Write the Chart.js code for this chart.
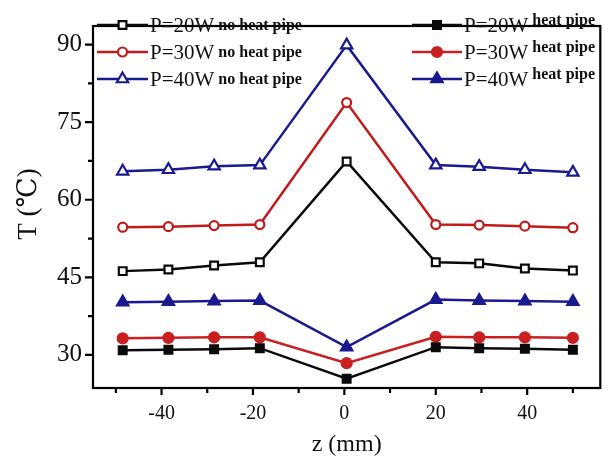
<!DOCTYPE html>
<html>
<head>
<meta charset="utf-8">
<script src="https://cdn.jsdelivr.net/npm/chart.js@4.4.0/dist/chart.umd.min.js"></script>
<style>
    html, body { margin: 0; padding: 0; background: #fff; }
    #wrap { width: 609px; height: 460px; }
</style>
</head>
<body>
<div id="wrap"><canvas id="chart" width="609" height="460"></canvas></div>
<script>
// values
var zPos = [-48.5, -38.5, -28.5, -18.5, 0.5, 20, 29.5, 39.5, 50];
var noHp20 = [46.2, 46.5, 47.3, 47.9, 67.4, 47.9, 47.7, 46.7, 46.3];
var noHp30 = [54.7, 54.8, 55.0, 55.2, 78.8, 55.2, 55.1, 54.9, 54.6];
var noHp40 = [65.5, 65.8, 66.5, 66.7, 89.9, 66.7, 66.4, 65.8, 65.3];
var hp20 = [30.9, 31.0, 31.1, 31.3, 25.4, 31.5, 31.3, 31.2, 31.0];
var hp30 = [33.2, 33.3, 33.4, 33.4, 28.4, 33.5, 33.4, 33.4, 33.3];
var hp40 = [40.2, 40.3, 40.4, 40.5, 31.5, 40.7, 40.5, 40.4, 40.3];

var xTicks = [-50, -40, -30, -20, -10, 0, 10, 20, 30, 40, 50];
var yTicks = [30, 37.5, 45, 52.5, 60, 67.5, 75, 82.5, 90];

var BLACK = '#0a0a0a', RED = '#c01a1a', BLUE = '#1a1a90';
var SERIF = "'Liberation Serif', 'DejaVu Serif', serif";

function pts(vals) {
    var out = [];
    for (var i = 0; i < zPos.length; i++) {
        out.push({x: zPos[i], y: vals[i]});
    }
    return out;
}

function series(label, note, vals, color, style, open, radius) {
    return {
        label: label,
        note: note,
        data: pts(vals),
        borderColor: color,
        borderWidth: 2.5,
        pointStyle: style,
        pointRadius: radius,
        pointBorderWidth: 2.2,
        pointBorderColor: color,
        pointBackgroundColor: open ? '#ffffff' : color,
        open: open,
        tension: 0
    };
}

var datasets = [
    series('P=20W', 'heat pipe', hp20, BLACK, 'rect', false, 5.5),
    series('P=30W', 'heat pipe', hp30, '#c82020', 'circle', false, 5),
    series('P=40W', 'heat pipe', hp40, BLUE, 'triangle', false, 6.5),
    series('P=20W', 'no heat pipe', noHp20, BLACK, 'rect', true, 5.5),
    series('P=30W', 'no heat pipe', noHp30, RED, 'circle', true, 4.5),
    series('P=40W', 'no heat pipe', noHp40, BLUE, 'triangle', true, 6.5)
];

function isMajor(v, step) {
    return Math.abs(v / step - Math.round(v / step)) < 1e-6;
}

var framePlugin = {
    id: 'frame',
    afterDraw: function(chart) {
        var ctx = chart.ctx;
        var a = chart.chartArea;
        var xs = chart.scales.x, ys = chart.scales.y;
        ctx.save();
        ctx.strokeStyle = '#000';
        ctx.lineWidth = 2.2;
        ctx.strokeRect(a.left, a.top, a.right - a.left, a.bottom - a.top);

        // tick marks, outward
        ctx.beginPath();
        xTicks.forEach(function(v) {
            var px = xs.getPixelForValue(v);
            ctx.moveTo(px, a.bottom);
            ctx.lineTo(px, a.bottom + (isMajor(v, 20) ? 7 : 5));
        });
        yTicks.forEach(function(v) {
            var py = ys.getPixelForValue(v);
            ctx.moveTo(a.left, py);
            ctx.lineTo(a.left - (isMajor(v, 15) ? 8 : 5), py);
        });
        ctx.stroke();

        // axis titles
        ctx.fillStyle = '#111';
        ctx.textAlign = 'center';
        ctx.textBaseline = 'middle';
        ctx.font = '24px ' + SERIF;
        ctx.fillText('z (mm)', (a.left + a.right) / 2, 445);
        ctx.save();
        ctx.translate(29, (a.top + a.bottom) / 2 - 3);
        ctx.rotate(-Math.PI / 2);
        ctx.font = '27px ' + SERIF;
        ctx.fillText('T (\u2103)', 0, 0);
        ctx.restore();

        // legend, two columns inside the plot
        var cols = [
            {items: [3, 4, 5], x0: 97, x1: 148, raise: 2},
            {items: [0, 1, 2], x0: 412, x1: 462, raise: 7}
        ];
        var rowsY = [25, 52, 79];
        cols.forEach(function(col) {
            col.items.forEach(function(idx, r) {
                var ds = chart.data.datasets[idx];
                var y = rowsY[r];
                ctx.strokeStyle = ds.borderColor;
                ctx.lineWidth = 2.5;
                ctx.beginPath();
                ctx.moveTo(col.x0, y);
                ctx.lineTo(col.x1, y);
                ctx.stroke();
                ctx.fillStyle = ds.pointBackgroundColor;
                ctx.strokeStyle = ds.borderColor;
                ctx.lineWidth = 2.2;
                Chart.helpers.drawPoint(ctx, {
                    pointStyle: ds.pointStyle,
                    radius: ds.pointRadius,
                    rotation: 0,
                    borderWidth: 2.2
                }, (col.x0 + col.x1) / 2, y);
                ctx.fillStyle = '#111';
                ctx.textAlign = 'left';
                ctx.textBaseline = 'alphabetic';
                ctx.font = '21px ' + SERIF;
                ctx.fillText(ds.label, col.x1 + 2, y + 7);
                var w = ctx.measureText(ds.label).width;
                ctx.font = 'bold 16px ' + SERIF;
                ctx.fillText(ds.note, col.x1 + 6 + w, y + 7 - col.raise);
            });
        });
        ctx.restore();
    }
};

var ctx = document.getElementById('chart');
var chart = new Chart(ctx, {
    type: 'line',
    data: {datasets: datasets},
    options: {
        responsive: false,
        animation: false,
        layout: {padding: {left: 0, top: 10, right: 5, bottom: 0}},
        plugins: {
            legend: {display: false},
            tooltip: {enabled: false}
        },
        scales: {
            x: {
                type: 'linear',
                min: -55,
                max: 56,
                afterBuildTicks: function(scale) {
                    scale.ticks = xTicks.map(function(v) { return {value: v}; });
                },
                afterFit: function(scale) { scale.height = 72; },
                grid: {display: false, drawTicks: false},
                border: {display: false},
                ticks: {
                    padding: 14,
                    autoSkip: false,
                    maxRotation: 0,
                    color: '#111',
                    font: {family: SERIF, size: 20},
                    callback: function(v) { return isMajor(v, 20) ? v : ''; }
                }
            },
            y: {
                min: 23.6,
                max: 93.6,
                afterBuildTicks: function(scale) {
                    scale.ticks = yTicks.map(function(v) { return {value: v}; });
                },
                afterFit: function(scale) { scale.width = 93; },
                grid: {display: false, drawTicks: false},
                border: {display: false},
                ticks: {
                    padding: 11,
                    autoSkip: false,
                    color: '#111',
                    font: {family: SERIF, size: 25},
                    callback: function(v) { return isMajor(v, 15) ? v : ''; }
                }
            }
        }
    },
    plugins: [framePlugin]
});
</script>
</body>
</html>
